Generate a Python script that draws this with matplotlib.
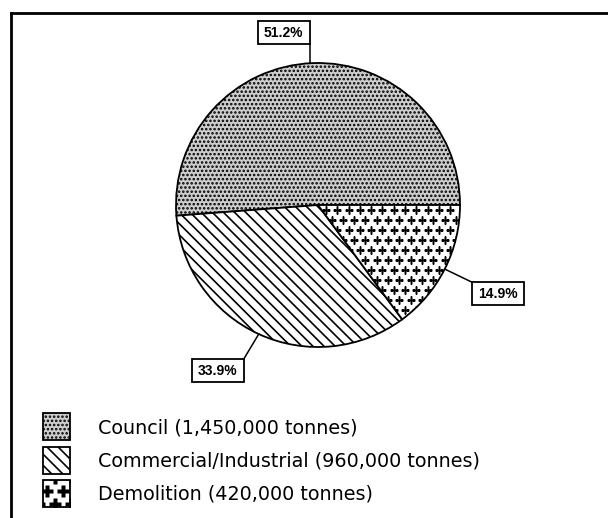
import numpy as np
import matplotlib

matplotlib.use("Agg")
import matplotlib.pyplot as plt  # noqa: E402
from matplotlib.patches import Rectangle  # noqa: E402

SOURCES = ["Council", "Commercial/Industrial", "Demolition"]
TONNES = ["1,450,000", "960,000", "420,000"]
SHARE = [51.2, 33.9, 14.9]
SHARE_LABELS = ["51.2%", "33.9%", "14.9%"]

W, H = 608, 518
CX, CY, R = 318, 205, 142
HATCHES = ["....", "\\\\\\", None]
FILLS = ["#cdcdcd", "white", "white"]

plt.rcParams["hatch.linewidth"] = 1.2

fig = plt.figure(figsize=(W / 100, H / 100), dpi=100)
ax = fig.add_axes([0, 0, 1, 1])


def plus_fill(patch, x0, x1, y0, y1, sx=11.3, sy=10.0, ms=6.0):
    # staggered grid of bold plus signs, clipped to the patch
    for i, y in enumerate(np.arange(y0, y1, sy)):
        xs = np.arange(x0 + (sx / 2 if i % 2 else 0), x1, sx)
        ln, = ax.plot(xs, np.full(len(xs), y), ls="none", marker="P",
                      ms=ms, color="black", mec="none")
        ln.set_clip_path(patch)


# image-style coordinates: y grows downward
wedges, _ = ax.pie(SHARE, center=(CX, CY), radius=R, startangle=0,
                   counterclock=False, colors=FILLS,
                   wedgeprops=dict(edgecolor="black", linewidth=1.3))
for w, h in zip(wedges, HATCHES):
    if h:
        w.set_hatch(h)
plus_fill(wedges[2], CX - R + 3, CX + R, CY + 5, CY + R)

# label boxes: (dx, dy) from slice edge to the box corner the leader meets,
# and which corner that is
BOX_W, BOX_H = 52, 23
LEADERS = [((-3, -19), "br"), ((-15, 25), "tr"), ((27, 13), "tl")]
for w, lab, ((dx, dy), corner) in zip(wedges, SHARE_LABELS, LEADERS):
    mid = np.deg2rad((w.theta1 + w.theta2) / 2)
    ex, ey = CX + R * np.cos(mid), CY + R * np.sin(mid)
    if corner == "br":
        ex += dx
        dx = 0
    kx, ky = ex + dx, ey + dy
    ax.plot([ex, kx], [ey, ky], color="black", lw=1.1)
    bx = kx - BOX_W if corner[1] == "r" else kx
    by = ky - BOX_H if corner[0] == "b" else ky
    ax.add_patch(Rectangle((bx, by), BOX_W, BOX_H, facecolor="white",
                           edgecolor="black", lw=1.3))
    ax.text(bx + BOX_W / 2, by + BOX_H / 2 + 0.5, lab, ha="center",
            va="center", fontsize=10, fontweight="bold",
            family="Liberation Sans")

# legend
LEG_X, LEG_Y, LEG_STEP, SW = 43, 413, 33.5, 27
for i, (src, t, h, fc) in enumerate(zip(SOURCES, TONNES, HATCHES, FILLS)):
    y = LEG_Y + i * LEG_STEP
    sq = Rectangle((LEG_X, y), SW, SW, facecolor=fc, edgecolor="black",
                   lw=1.3, hatch=h)
    ax.add_patch(sq)
    if h is None:
        plus_fill(sq, LEG_X - 4, LEG_X + SW + 4, y - 2, y + SW + 4,
                  sx=16, sy=13, ms=9)
    ax.text(98, y + SW / 2 + 1, f"{src} ({t} tonnes)", va="center",
            fontsize=13.8, family="DejaVu Sans", color="black")

# frame (only top and left edges fall inside the picture)
ax.plot([11, W], [13, 13], color="black", lw=2)
ax.plot([11, 11], [13, H], color="black", lw=2)

ax.set_xlim(0, W)
ax.set_ylim(H, 0)
ax.set_aspect("equal")
ax.axis("off")

fig.savefig("out.png", dpi=100)
